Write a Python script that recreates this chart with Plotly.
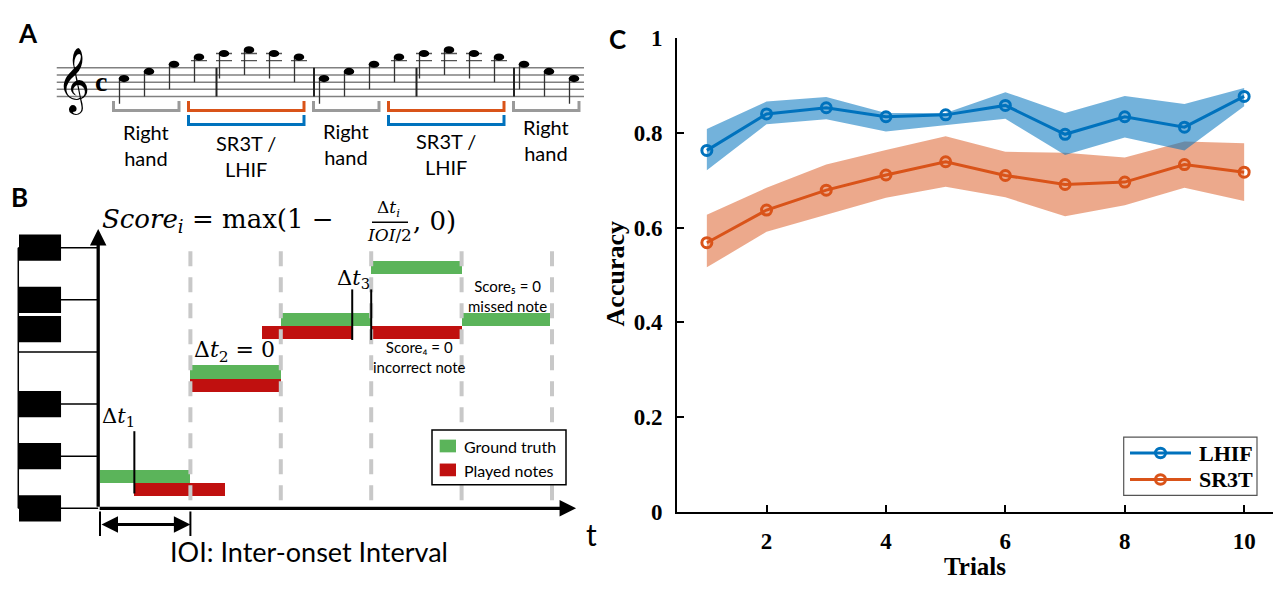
import plotly.graph_objects as go

# The page adds an 8px body margin, so the figure is made 16px smaller and
# every reference-pixel position is shifted by that margin.
REF_W, REF_H = 1281, 591
OFF = 8
FW, FH = REF_W - 2 * OFF, REF_H - 2 * OFF

# ---------------- Panel C data ----------------
trials = [1, 2, 3, 4, 5, 6, 7, 8, 9, 10]
lhif_mean = [0.763, 0.840, 0.853, 0.834, 0.838, 0.858, 0.797, 0.834, 0.812, 0.877]
lhif_upper = [0.808, 0.866, 0.876, 0.842, 0.842, 0.886, 0.842, 0.878, 0.861, 0.895]
lhif_lower = [0.721, 0.818, 0.829, 0.803, 0.816, 0.830, 0.753, 0.790, 0.763, 0.856]
sr3t_mean = [0.568, 0.637, 0.679, 0.711, 0.739, 0.710, 0.691, 0.696, 0.733, 0.717]
sr3t_upper = [0.627, 0.684, 0.733, 0.764, 0.793, 0.760, 0.758, 0.748, 0.782, 0.778]
sr3t_lower = [0.516, 0.591, 0.627, 0.663, 0.686, 0.664, 0.624, 0.647, 0.684, 0.656]
series_names = ["LHIF", "SR3T"]
c_xticks = [2, 4, 6, 8, 10]
c_yticks = [0, 0.2, 0.4, 0.6, 0.8, 1]
c_yticklabels = ["0", "0.2", "0.4", "0.6", "0.8", "1"]

# ---------------- Panel A data (score) ----------------
note_beats = list(range(19))
note_steps = [5, 7, 9, 11, 12, 13, 12, 11, 5, 7, 9, 11, 12, 13, 12, 11, 9, 7, 5]
barline_beats = [3.7, 7.6, 11.7, 15.6]
staff_steps = [0, 2, 4, 6, 8]
ledger_steps = [10, 12]
group_first = [0, 3, 8, 11, 16]
group_last = [2, 7, 10, 15, 18]
group_text = ["Right<br>hand", "SR3T /<br>LHIF", "Right<br>hand", "SR3T /<br>LHIF", "Right<br>hand"]
group_kind = ["right", "both", "right", "both", "right"]

# ---------------- Panel B data (timing diagram) ----------------
truth_onset = [0, 1, 2, 3, 4]
truth_dur = [1, 1, 1, 1, 0.98]
truth_pitch = [0, 2, 3, 4, 3]
played_onset = [0.38, 1, 1.79, 3]
played_dur = [1, 1, 1, 1]
played_pitch = [0, 2, 3, 3]
beat_lines = [1, 2, 3, 4, 5]
black_key_levels = [4.5, 3.5, 2.94, 1.5, 0.5, -0.5]
key_separator_levels = [4.5, 3.5, 2.5, 1.5, 0.5, -0.5]
delta_times = [0.38, 2.79, 3.0]

# ---------------- styles ----------------
BLUE = "#0072BD"
ORANGE = "#D95319"
GREEN = "#5BB45A"
RED = "#C0100F"
GRAY = "#9A9A9A"
SANS = "Lato, 'Open Sans', sans-serif"
SERIF = "'Liberation Serif', 'DejaVu Serif', serif"
MATH = "'DejaVu Serif', 'Liberation Serif', serif"


def PX(x):
    return (x - OFF) / FW


def PY(y):
    return 1 - (y - OFF) / FH


def ann(text, x, y, size, family=SANS, xanchor="center", yanchor="middle", weight="normal", **kw):
    return dict(text=text, x=PX(x), y=PY(y), xref="paper", yref="paper", showarrow=False,
                font=dict(size=size, family=family, color="black", weight=weight),
                xanchor=xanchor, yanchor=yanchor, **kw)


fig = go.Figure()
shapes = []
annotations = []

# ======================= Panel C =======================
def band(xs, up, lo):
    return list(xs) + list(xs)[::-1], list(up) + list(lo)[::-1]

bx, by = band(trials, sr3t_upper, sr3t_lower)
fig.add_trace(go.Scatter(x=bx, y=by, fill="toself", fillcolor="rgba(217,83,25,0.5)",
                         line=dict(width=0), mode="lines", hoverinfo="skip", showlegend=False))
bx, by = band(trials, lhif_upper, lhif_lower)
fig.add_trace(go.Scatter(x=bx, y=by, fill="toself", fillcolor="rgba(0,114,189,0.55)",
                         line=dict(width=0), mode="lines", hoverinfo="skip", showlegend=False))
for name, mean, col in zip(series_names, [lhif_mean, sr3t_mean], [BLUE, ORANGE]):
    fig.add_trace(go.Scatter(x=trials, y=mean, mode="lines+markers", name=name,
                             line=dict(color=col, width=3), showlegend=False,
                             marker=dict(symbol="circle-open", size=10, color=col,
                                         line=dict(width=3, color=col))))

# legend of panel C
shapes.append(dict(type="rect", xref="paper", yref="paper", x0=PX(1123.7), x1=PX(1257),
                   y0=PY(505), y1=PY(444), line=dict(color="#555555", width=1.2),
                   fillcolor="white"))
for i, (name, col) in enumerate(zip(series_names, [BLUE, ORANGE])):
    yy = 460.7 + i * 27.6
    shapes.append(dict(type="line", xref="paper", yref="paper", x0=PX(1130), x1=PX(1191),
                       y0=PY(yy), y1=PY(yy), line=dict(color=col, width=3)))
    shapes.append(dict(type="circle", xref="paper", yref="paper", x0=PX(1155.5), x1=PX(1165.5),
                       y0=PY(yy + 5), y1=PY(yy - 5), line=dict(color=col, width=3)))
    annotations.append(ann(name, 1197, yy, 22, family=SERIF, weight="bold", xanchor="left"))

annotations.append(ann("Accuracy", 615, 274, 26, family=SERIF, weight="bold", textangle=-90))
annotations.append(ann("Trials", 975, 579, 25, family=SERIF, weight="bold"))
annotations.append(ann("C", 617, 28, 26, weight="bold"))

# ======================= Panel B =======================
B = dict(xaxis="x2", yaxis="y2", hoverinfo="skip", showlegend=False)
for t in beat_lines:
    fig.add_trace(go.Scatter(x=[t, t], y=[4.43, -0.5], mode="lines",
                             line=dict(color="#C8C8C8", width=4, dash="15px,11px"), **B))

fig.add_trace(go.Bar(orientation="h", base=truth_onset, x=truth_dur,
                     y=[p + 0.125 for p in truth_pitch], width=0.25,
                     marker=dict(color=GREEN, line=dict(width=0)), **B))
fig.add_trace(go.Bar(orientation="h", base=played_onset, x=played_dur,
                     y=[p - 0.125 for p in played_pitch], width=0.25,
                     marker=dict(color=RED, line=dict(width=0)), **B))

dt_spans = [(-0.215, 0.98), (2.73, 3.70), (2.73, 3.70)]
dx, dy = [], []
for t, (a, b) in zip(delta_times, dt_spans):
    dx += [t, t, None]
    dy += [a, b, None]
fig.add_trace(go.Scatter(x=dx, y=dy, mode="lines", line=dict(color="black", width=2), **B))

fig.add_trace(go.Scatter(x=[truth_onset[0], truth_onset[0], None, truth_onset[1], truth_onset[1]],
                         y=[-0.56, -1.03, None, -0.56, -1.03], mode="lines",
                         line=dict(color="black", width=2), **B))

for lv in key_separator_levels:
    shapes.append(dict(type="line", xref="x2", yref="y2", x0=-0.904, x1=-0.02, y0=lv, y1=lv,
                       line=dict(color="black", width=1.5)))
shapes.append(dict(type="line", xref="x2", yref="y2", x0=-0.904, x1=-0.904, y0=4.5, y1=-0.5,
                   line=dict(color="black", width=1.5)))
for lv in black_key_levels:
    shapes.append(dict(type="rect", xref="x2", yref="y2", x0=-0.896, x1=-0.431,
                       y0=lv - 0.252, y1=lv + 0.252, fillcolor="black", line=dict(width=0)))

arrow_common = dict(xref="x2", yref="y2", axref="x2", ayref="y2", showarrow=True, text="",
                    arrowhead=2, arrowsize=1, arrowwidth=3.3, arrowcolor="black")
annotations.append(dict(x=-0.02, y=4.86, ax=-0.02, ay=-0.5, **arrow_common))
annotations.append(dict(x=5.266, y=-0.5, ax=-0.02, ay=-0.5, **arrow_common))
annotations.append(dict(x=truth_onset[1], y=-0.81, ax=truth_onset[0], ay=-0.81, xref="x2", yref="y2",
                        axref="x2", ayref="y2", showarrow=True, text="", arrowhead=2,
                        startarrowhead=2, arrowside="end+start", arrowsize=1.1,
                        startarrowsize=1.1, arrowwidth=3, arrowcolor="black"))

shapes.append(dict(type="rect", xref="paper", yref="paper", x0=PX(432), x1=PX(566),
                   y0=PY(494), y1=PY(436.7), line=dict(color="black", width=1.5), fillcolor="white"))
shapes.append(dict(type="rect", xref="paper", yref="paper", x0=PX(439.7), x1=PX(456),
                   y0=PY(460), y1=PY(446.7), line=dict(width=0), fillcolor=GREEN))
shapes.append(dict(type="rect", xref="paper", yref="paper", x0=PX(439.7), x1=PX(456),
                   y0=PY(485), y1=PY(471.7), line=dict(width=0), fillcolor=RED))
annotations.append(ann("Ground truth", 462, 453.5, 16, xanchor="left"))
annotations.append(ann("Played notes", 462, 478.5, 16, xanchor="left"))

annotations.append(ann("<i>Score</i><sub><i>i</i></sub> = max(1 −", 336, 218, 26,
                       family=MATH, xanchor="right"))
annotations.append(ann("Δ<i>t</i><sub><i>i</i></sub>", 388, 205, 17, family=MATH))
shapes.append(dict(type="line", xref="paper", yref="paper", x0=PX(372), x1=PX(408),
                   y0=PY(219.5), y1=PY(219.5), line=dict(color="black", width=1.5)))
annotations.append(ann("<i>IOI</i>/2", 390, 233, 17, family=MATH))
annotations.append(ann(", 0)", 411, 218, 26, family=MATH, xanchor="left"))

annotations.append(ann("Δ<i>t</i><sub>1</sub>", 118, 423, 21, family=MATH))
annotations.append(ann("Δ<i>t</i><sub>2</sub> = 0", 234, 355, 22, family=MATH))
annotations.append(ann("Δ<i>t</i><sub>3</sub>", 353, 279, 21, family=MATH))
annotations.append(ann("Score₄ = 0<br>incorrect note", 419, 360, 15))
annotations.append(ann("Score₅ = 0<br>missed note", 507, 297, 15))
annotations.append(ann("t", 591, 545, 30))
annotations.append(ann("IOI: Inter-onset Interval", 309, 564, 27))
annotations.append(ann("B", 19, 193, 26, weight="bold"))

# ======================= Panel A =======================
A = dict(xaxis="x3", yaxis="y3", hoverinfo="skip", showlegend=False)
sx, sy = [], []
for s in staff_steps:
    sx += [-2.69, 18.4, None]
    sy += [s, s, None]
fig.add_trace(go.Scatter(x=sx, y=sy, mode="lines", line=dict(color="#808080", width=1.5), **A))

bxs, bys = [], []
for b in barline_beats:
    bxs += [b, b, None]
    bys += [staff_steps[0], staff_steps[-1], None]
fig.add_trace(go.Scatter(x=bxs, y=bys, mode="lines", line=dict(color="#222222", width=2), **A))

lx, ly = [], []
for b, s in zip(note_beats, note_steps):
    for ls in ledger_steps:
        if s >= ls:
            lx += [b - 0.32, b + 0.32, None]
            ly += [ls, ls, None]
fig.add_trace(go.Scatter(x=lx, y=ly, mode="lines", line=dict(color="#555555", width=1.3), **A))

stx, sty = [], []
for b, s in zip(note_beats, note_steps):
    stx += [b - 0.18, b - 0.18, None]
    sty += [s, s - 7, None]
fig.add_trace(go.Scatter(x=stx, y=sty, mode="lines", line=dict(color="#333333", width=1.3), **A))

for b, s in zip(note_beats, note_steps):
    shapes.append(dict(type="circle", xref="x3", yref="y3", x0=b - 0.21, x1=b + 0.21,
                       y0=s - 1.0, y1=s + 1.0, fillcolor="black", line=dict(width=0)))

label_steps = [-13.6, -16.5, -13.1, -16.0, -12.0]
for f, l, txt, kind, ystep in zip(group_first, group_last, group_text, group_kind, label_steps):
    b0, b1 = f - 0.42, l + 0.2
    col = GRAY if kind == "right" else ORANGE
    fig.add_trace(go.Scatter(x=[b0, b0, b1, b1], y=[-1.25, -3.92, -3.92, -1.25], mode="lines",
                             line=dict(color=col, width=3), **A))
    if kind == "both":
        fig.add_trace(go.Scatter(x=[b0, b0, b1, b1], y=[-5.15, -7.81, -7.81, -5.15], mode="lines",
                                 line=dict(color=BLUE, width=3), **A))
    annotations.append(dict(text=txt, x=(b0 + b1) / 2, y=ystep, xref="x3", yref="y3",
                            showarrow=False, font=dict(size=20, family=SANS, color="black")))

annotations.append(dict(text="𝄞", x=-2.04, y=4.3, xref="x3", yref="y3", showarrow=False,
                        font=dict(size=56, family="'DejaVu Sans', 'Noto Sans', sans-serif",
                                  color="black")))
annotations.append(dict(text="c", x=-0.92, y=4.2, xref="x3", yref="y3", showarrow=False,
                        font=dict(size=28, family=SERIF, color="black", weight="bold")))
annotations.append(ann("A", 28, 22, 26, weight="bold"))

# ======================= Layout =======================
c_x_end = 0.5 + (OFF + FW - 677) / 59.7
fig.update_layout(
    width=FW, height=FH, autosize=False, margin=dict(l=0, r=0, t=0, b=0, pad=0),
    paper_bgcolor="white", plot_bgcolor="rgba(0,0,0,0)",
    barmode="overlay", bargap=0, hovermode=False, showlegend=False,
    shapes=shapes, annotations=annotations,
    xaxis=dict(domain=[PX(677), 1], range=[0.5, c_x_end], tickvals=c_xticks,
               showline=True, linecolor="black", linewidth=2, ticks="inside", ticklen=7,
               tickwidth=2, tickcolor="black", showgrid=False, zeroline=False,
               ticklabelstandoff=8,
               tickfont=dict(family=SERIF, size=23, color="black", weight="bold"),
               anchor="y", fixedrange=True),
    yaxis=dict(domain=[PY(522), PY(27)], range=[0, 1], tickvals=c_yticks, ticktext=c_yticklabels,
               showline=True, linecolor="black", linewidth=2, ticks="inside", ticklen=7,
               tickwidth=2, tickcolor="black", showgrid=False, zeroline=False,
               ticklabelstandoff=8,
               tickfont=dict(family=SERIF, size=23, color="black", weight="bold"),
               anchor="x", fixedrange=True),
    xaxis2=dict(domain=[0, PX(600)], range=[(OFF - 100) / 90.4, 500 / 90.4], visible=False,
                anchor="y2", fixedrange=True),
    yaxis2=dict(domain=[0, PY(180)], range=[(491.3 - (OFF + FH)) / 54.5, (491.3 - 180) / 54.5],
                visible=False, anchor="x2", fixedrange=True),
    xaxis3=dict(domain=[0, PX(600)], range=[(OFF - 124) / 25, 476 / 25], visible=False,
                anchor="y3", fixedrange=True),
    yaxis3=dict(domain=[PY(180), 1], range=[(88 - 180) / 3.75, (88 - OFF) / 3.75], visible=False,
                anchor="x3", fixedrange=True),
)

fig.write_html("out.html", include_plotlyjs=True,
               config={"displayModeBar": False, "responsive": False})
